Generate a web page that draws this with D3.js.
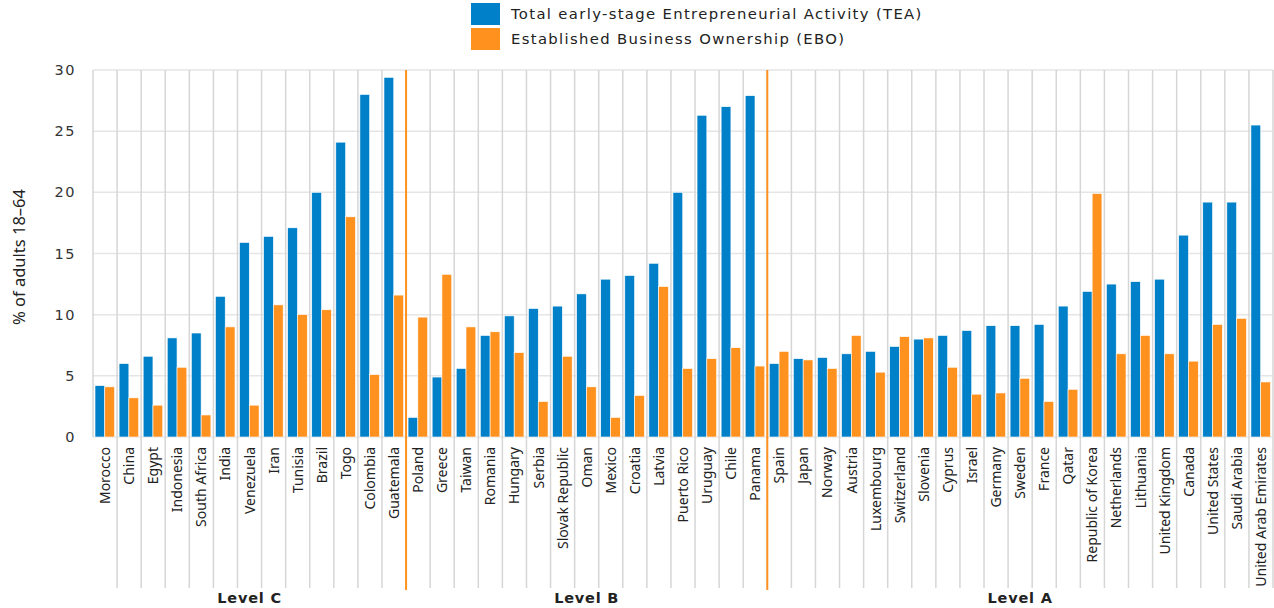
<!DOCTYPE html>
<html>
<head>
<meta charset="utf-8">
<script src="https://cdn.jsdelivr.net/npm/d3@7"></script>
<style>
  body { margin: 0; background: #fff; }
  svg { display: block; }
  .tick text { font-family: "DejaVu Sans", sans-serif; font-size: 14.5px; letter-spacing: 1.5px; fill: #333; }
  .xlabel { font-family: "Noto Sans", sans-serif; font-size: 14px; fill: #222; }
  .legend text { font-family: "DejaVu Sans", sans-serif; font-size: 14.8px; letter-spacing: 1.35px; fill: #222; }
  .level { font-family: "DejaVu Sans", sans-serif; font-size: 14.5px; letter-spacing: 0.8px; font-weight: bold; fill: #222; }
  .ytitle { font-family: "Noto Sans", sans-serif; font-size: 16.5px; fill: #222; }
</style>
</head>
<body>
<svg id="chart"></svg>
<script>
// countries in the order shown, grouped by level
var levelC = ["Morocco", "China", "Egypt", "Indonesia", "South Africa", "India", "Venezuela",
  "Iran", "Tunisia", "Brazil", "Togo", "Colombia", "Guatemala"];
var levelB = ["Poland", "Greece", "Taiwan", "Romania", "Hungary", "Serbia", "Slovak Republic",
  "Oman", "Mexico", "Croatia", "Latvia", "Puerto Rico", "Uruguay", "Chile", "Panama"];
var levelA = ["Spain", "Japan", "Norway", "Austria", "Luxembourg", "Switzerland", "Slovenia",
  "Cyprus", "Israel", "Germany", "Sweden", "France", "Qatar", "Republic of Korea", "Netherlands",
  "Lithuania", "United Kingdom", "Canada", "United States", "Saudi Arabia", "United Arab Emirates"];

var levelNames = ["Level C", "Level B", "Level A"];

// Total early-stage Entrepreneurial Activity
var tea = [4.2, 6.0, 6.6, 8.1, 8.5, 11.5, 15.9, 16.4, 17.1, 20.0, 24.1, 28.0, 29.4,
  1.6, 4.9, 5.6, 8.3, 9.9, 10.5, 10.7, 11.7, 12.9, 13.2, 14.2, 20.0, 26.3, 27.0, 27.9,
  6.0, 6.4, 6.5, 6.8, 7.0, 7.4, 8.0, 8.3, 8.7, 9.1, 9.1, 9.2, 10.7, 11.9, 12.5, 12.7,
  12.9, 16.5, 19.2, 19.2, 25.5];

// Established Business Ownership
var ebo = [4.1, 3.2, 2.6, 5.7, 1.8, 9.0, 2.6, 10.8, 10.0, 10.4, 18.0, 5.1, 11.6,
  9.8, 13.3, 9.0, 8.6, 6.9, 2.9, 6.6, 4.1, 1.6, 3.4, 12.3, 5.6, 6.4, 7.3, 5.8,
  7.0, 6.3, 5.6, 8.3, 5.3, 8.2, 8.1, 5.7, 3.5, 3.6, 4.8, 2.9, 3.9, 19.9, 6.8, 8.3,
  6.8, 6.2, 9.2, 9.7, 4.5];

var seriesNames = ["Total early-stage Entrepreneurial Activity (TEA)", "Established Business Ownership (EBO)"];
var seriesColors = ["#0080c9", "#ff911e"];
var yTicks = [0, 5, 10, 15, 20, 25, 30];

var screen = { width: 1274, height: 608 };
var margins = { top: 70, bottom: 171, left: 93, right: 1 };
var graph = {
  width: screen.width - margins.left - margins.right,
  height: screen.height - margins.top - margins.bottom
};

var countries = levelC.concat(levelB, levelA);
var groups = [levelC, levelB, levelA];

var rows = countries.map(function (c, i) {
  return { country: c, values: [tea[i], ebo[i]] };
});

var svg = d3.select("#chart").attr("width", screen.width).attr("height", screen.height);

var xScale = d3.scaleBand().domain(countries).range([0, graph.width]).padding(0);
var bw = xScale.bandwidth();
var subScale = d3.scaleBand().domain([0, 1]).range([2, bw - 2.5]).padding(0);
var yScale = d3.scaleLinear().domain([0, 30]).range([graph.height, 0]);

var g = svg.append("g")
  .classed("graph", true)
  .attr("transform", "translate(" + margins.left + "," + margins.top + ")");

// horizontal grid
g.append("g").selectAll("line")
  .data(yTicks)
  .enter()
  .append("line")
  .attr("x1", 0)
  .attr("x2", graph.width)
  .attr("y1", function (d) { return yScale(d); })
  .attr("y2", function (d) { return yScale(d); })
  .style("stroke", "#e5e5e5")
  .style("stroke-width", 1.5);

// vertical band lines, extending down through the labels
var lineBottom = 518;
g.append("g").selectAll("line")
  .data(countries)
  .enter()
  .append("line")
  .attr("x1", function (d) { return xScale(d) + bw; })
  .attr("x2", function (d) { return xScale(d) + bw; })
  .attr("y1", 0)
  .attr("y2", lineBottom)
  .style("stroke", "#d6d6d6")
  .style("stroke-width", 1.5);

g.append("line")
  .attr("x1", 0).attr("x2", 0)
  .attr("y1", 0).attr("y2", graph.height)
  .style("stroke", "#d6d6d6")
  .style("stroke-width", 1.5);

// bars
var bars = g.append("g").selectAll("g")
  .data(rows)
  .enter()
  .append("g")
  .attr("transform", function (d) { return "translate(" + xScale(d.country) + ",0)"; });

bars.selectAll("rect")
  .data(function (d) { return d.values; })
  .enter()
  .append("rect")
  .attr("x", function (d, i) { return subScale(i); })
  .attr("width", subScale.bandwidth())
  .attr("y", function (d) { return yScale(d); })
  .attr("height", function (d) { return graph.height - yScale(d); })
  .style("fill", function (d, i) { return seriesColors[i]; })
  .style("stroke", "#fff")
  .style("stroke-width", 0.6);

// level separators
var separators = [levelC[levelC.length - 1], levelB[levelB.length - 1]];
g.append("g").selectAll("line")
  .data(separators)
  .enter()
  .append("line")
  .attr("x1", function (d) { return xScale(d) + bw; })
  .attr("x2", function (d) { return xScale(d) + bw; })
  .attr("y1", 0)
  .attr("y2", lineBottom + 2)
  .style("stroke", "#ff911e")
  .style("stroke-width", 2);

// y axis
var yAxis = d3.axisLeft(yScale).tickValues(yTicks).tickSize(0).tickPadding(17);
g.append("g").call(yAxis).call(function (a) { a.select(".domain").remove(); });

// x labels
g.append("g").selectAll("text")
  .data(countries)
  .enter()
  .append("text")
  .classed("xlabel", true)
  .attr("text-anchor", "end")
  .attr("transform", function (d) {
    return "translate(" + (xScale(d) + bw / 2 + 5) + "," + (graph.height + 10) + ") rotate(-90)";
  })
  .text(function (d) { return d; });

// level labels
g.append("g").selectAll("text")
  .data(groups)
  .enter()
  .append("text")
  .classed("level", true)
  .attr("text-anchor", "middle")
  .attr("x", function (d) {
    return (xScale(d[0]) + xScale(d[d.length - 1]) + bw) / 2;
  })
  .attr("y", 533)
  .text(function (d, i) { return levelNames[i]; });

// y title
svg.append("text")
  .classed("ytitle", true)
  .attr("text-anchor", "middle")
  .attr("transform", "translate(25,257) rotate(-90)")
  .text("% of adults 18–64");

// legend
var legend = svg.append("g").classed("legend", true).attr("transform", "translate(471,3)");
var items = legend.selectAll("g")
  .data(seriesNames)
  .enter()
  .append("g")
  .attr("transform", function (d, i) { return "translate(0," + i * 25 + ")"; });

items.append("rect")
  .attr("width", 29)
  .attr("height", 22)
  .style("fill", function (d, i) { return seriesColors[i]; });

items.append("text")
  .attr("x", 40)
  .attr("y", 16)
  .text(function (d) { return d; });
</script>
</body>
</html>
